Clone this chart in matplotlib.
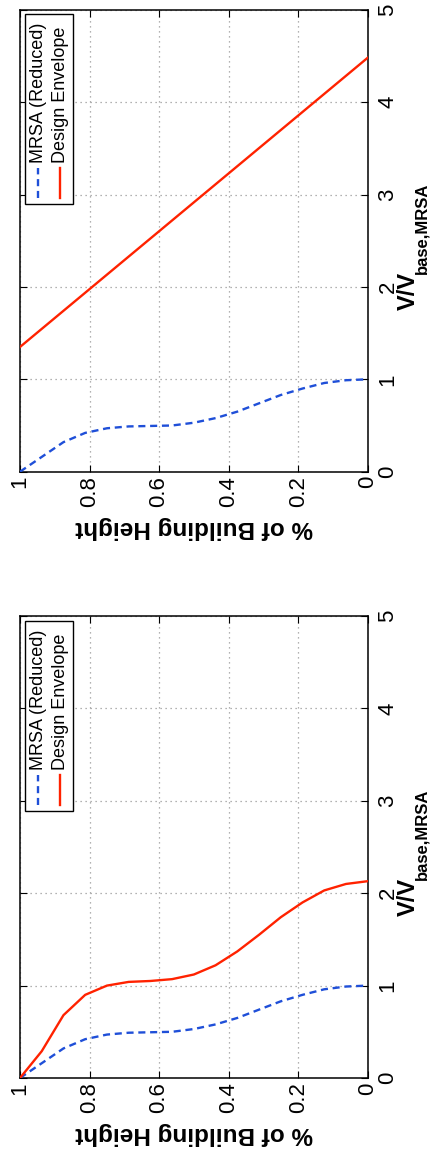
import numpy as np
import matplotlib
matplotlib.use("Agg")
import matplotlib.pyplot as plt
from matplotlib.patches import Rectangle
from matplotlib.lines import Line2D

plt.rcParams['font.family'] = ['Liberation Sans', 'DejaVu Sans']

# fraction of building height (16 storeys, roof -> base)
altura = [1.0, 0.9375, 0.875, 0.8125, 0.75, 0.6875, 0.625, 0.5625, 0.5,
          0.4375, 0.375, 0.3125, 0.25, 0.1875, 0.125, 0.0625, 0.0]

# MRSA (reduced) storey shear, same in both panels
mrsa = [0.0, 0.16, 0.32, 0.42, 0.47, 0.49, 0.495, 0.50, 0.53,
        0.58, 0.65, 0.74, 0.83, 0.90, 0.96, 0.99, 1.0]

# design envelope, panel de abajo
envolvente = [0.0, 0.29, 0.68, 0.90, 1.0, 1.04, 1.05, 1.07, 1.12,
              1.22, 1.37, 1.55, 1.74, 1.90, 2.03, 2.10, 2.13]

# design envelope, panel de arriba (linea recta)
altura_recta = [1.0, 0.0]
envolvente_recta = [1.35, 4.48]

xticks = [1.0, 0.8, 0.6, 0.4, 0.2, 0.0]
xtick_labels = ['1', '0.8', '0.6', '0.4', '0.2', '0']
yticks = [0, 1, 2, 3, 4, 5]

ROJO = '#ff2200'
AZUL = '#1f4fd8'

W, H = 431, 1152
fig = plt.figure(figsize=(W / 100, H / 100), dpi=100)


def fx(px):
    return px / W


def fy(py):
    return 1 - py / H


def panel(y_abajo, x_env, y_env):
    # y_abajo: pixel row of the axis line at V = 0
    ax = fig.add_axes([fx(20), fy(y_abajo), 347.7 / W, 462 / H])
    ax.plot(altura, mrsa, color=AZUL, lw=1.7, linestyle=(0, (3, 2)), zorder=3)
    ax.plot(x_env, y_env, color=ROJO, lw=1.7, zorder=3)
    ax.set_xlim(1, 0)
    ax.set_ylim(0, 5)
    ax.set_xticks(xticks)
    ax.set_xticklabels(xtick_labels, rotation=90)
    ax.set_yticks(yticks)
    ax.set_yticklabels([str(t) for t in yticks], rotation=90, va='center')
    ax.yaxis.tick_right()
    ax.tick_params(direction='in', length=5, width=0.8, labelsize=16,
                   top=True, bottom=True, left=True, right=True)
    ax.tick_params(axis='x', pad=3)
    ax.tick_params(axis='y', pad=7)
    ax.grid(True, linestyle=(0, (1, 3)), color='#999999', linewidth=0.9)
    for s in ax.spines.values():
        s.set_linewidth(1.1)

    top = y_abajo - 462
    # x label, upside down
    fig.text(fx(194), fy(y_abajo + 56), '% of Building Height', rotation=180,
             ha='center', va='center', fontsize=17.5, fontweight='bold')
    # y label on the right
    fig.text(fx(397), fy(top + 300), 'V/V', rotation=90, ha='left', va='bottom',
             fontsize=17, fontweight='bold')
    fig.text(fx(414), fy(top + 264), 'base,MRSA', rotation=90, ha='left',
             va='bottom', fontsize=12, fontweight='bold')

    # legend box drawn by hand (rotated entries)
    L = top + 4.6
    fig.add_artist(Rectangle((fx(25), fy(L + 190)), 48 / W, 190 / H,
                             transform=fig.transFigure, facecolor='white',
                             edgecolor='black', lw=1.0, zorder=5))
    fig.add_artist(Line2D([fx(37.7), fx(37.7)], [fy(L + 184), fy(L + 154)],
                          transform=fig.transFigure, color=AZUL, lw=1.7,
                          linestyle=(0, (3, 2)), zorder=6))
    fig.add_artist(Line2D([fx(60), fx(60)], [fy(L + 184), fy(L + 154)],
                          transform=fig.transFigure, color=ROJO, lw=1.7, zorder=6))
    fig.text(fx(38.5), fy(L + 149), 'MRSA (Reduced)', rotation=90, ha='center',
             va='bottom', fontsize=13, zorder=7)
    fig.text(fx(60.5), fy(L + 149), 'Design Envelope', rotation=90, ha='center',
             va='bottom', fontsize=13, zorder=7)
    return ax


ax1 = panel(471.7, altura_recta, envolvente_recta)
ax2 = panel(1078, altura, envolvente)

fig.savefig('out.png', dpi=100)
